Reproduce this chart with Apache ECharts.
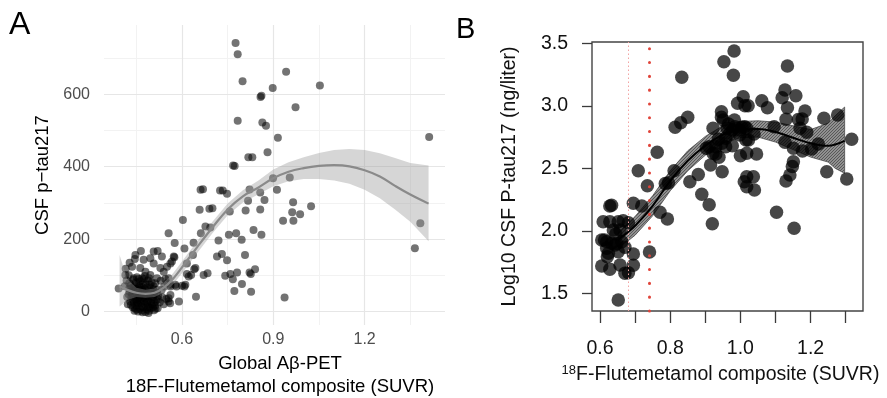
<!DOCTYPE html>
<html>
<head>
<meta charset="utf-8">
<script src="https://cdn.jsdelivr.net/npm/echarts@6/dist/echarts.min.js"></script>
<style>
  html, body { margin: 0; padding: 0; background: #fff; }
  #chart { width: 887px; height: 398px; }
</style>
</head>
<body>
<div id="chart"></div>
<script>
// ---- panel A: CSF p-tau217 vs global Abeta-PET ----
const scatterA = [
  [0.776,741],[0.783,710],[0.799,636],[0.942,662],[1.053,624],[0.898,617],[0.861,596],[0.858,592],
  [0.973,564],[0.783,527],[0.864,522],[0.876,513],[0.915,480],[1.412,482],[0.818,426],[0.831,426],
  [0.881,440],[0.768,403],[0.773,402],[0.899,368],[0.954,370],[0.822,337],[0.912,336],[0.857,329],
  [0.817,306],[0.871,308],[0.965,302],[0.809,279],[0.857,282],[1.024,291],[0.962,274],[0.988,269],
  [0.932,251],[0.966,251],[0.835,225],[0.861,212],[0.778,216],[0.754,212],[0.796,198],[0.720,196],
  [0.807,156],[0.731,159],[0.715,152],[0.748,142],[0.840,117],[0.822,108],[0.826,104],[0.781,108],
  [0.759,104],[0.742,99],[0.767,89],[0.797,76],[0.772,57],[0.827,55],[0.937,39],[1.365,175],[1.383,244],
  [0.661,336],[0.669,338],[0.725,334],[0.734,334],[0.748,325],[0.658,281],[0.690,284],[0.700,285],
  [0.757,276],[0.677,235],[0.662,216],[0.693,232],[0.603,253],[0.556,216],[0.576,189],[0.608,174],
  [0.638,190],[0.636,156],[0.573,152],[0.567,138],[0.616,133],[0.640,117],[0.630,101],[0.616,104],
  [0.671,101],[0.684,106],[0.646,41],[0.608,69],[0.582,69],[0.590,28],[0.556,37],[0.561,23],[0.542,69],
  [0.562,74],[0.578,74],[0.600,71],[0.611,74],[0.622,97],[0.644,120],[0.575,150],[0.562,133],
  [0.465,167],[0.447,156],[0.507,166],[0.520,167],[0.496,147],[0.534,152],[0.474,143],[0.436,124],
  [0.507,133],[0.551,124],[0.463,120],[0.529,120],[0.480,110],[0.414,101],[0.540,110],[0.496,101],
  [0.518,92],[0.441,92],[0.469,92],[0.427,78],[0.392,64],[0.556,92],[0.562,69],[0.562,46],[0.556,28],
  [0.440,88],[0.452,95],[0.463,84],[0.475,90],[0.488,86],[0.500,80],[0.512,78],
  [0.432,72],[0.445,70],[0.458,74],[0.470,68],[0.481,75],[0.494,66],[0.506,62],[0.518,60],
  [0.428,55],[0.438,58],[0.449,52],[0.461,60],[0.472,55],[0.484,50],[0.497,56],[0.509,48],[0.522,44],
  [0.434,40],[0.446,44],[0.457,38],[0.468,46],[0.479,36],[0.491,40],[0.503,34],[0.515,30],[0.527,26],
  [0.430,28],[0.442,24],[0.453,30],[0.465,22],[0.476,27],[0.487,18],[0.499,24],[0.511,16],
  [0.438,12],[0.450,16],[0.461,8],[0.473,12],[0.485,6],[0.496,10],[0.508,4],[0.520,9],
  [0.444,2],[0.456,0],[0.468,3],[0.480,-1],[0.492,2],[0.455,64],[0.466,35],[0.478,62],[0.489,30],
  [0.447,34],[0.459,48],[0.425,100],[0.418,86],[0.412,70],[0.420,40],[0.422,20],[0.533,60],
  [0.535,40],[0.540,20],[0.548,35],[0.530,85],[0.545,90],[0.552,78],[0.415,118],[0.428,135],[0.445,145],
  [0.436,50],[0.448,62],[0.460,44],[0.471,58],[0.483,42],[0.495,50],[0.506,40],[0.517,52],
  [0.432,18],[0.444,10],[0.455,22],[0.467,14],[0.478,20],[0.490,12],[0.502,20],[0.513,8],
  [0.440,32],[0.452,26],[0.463,30],[0.474,40],[0.486,26],[0.498,44],[0.510,26],[0.521,34],
  [0.437,66],[0.449,80],[0.460,70],[0.472,78],[0.483,66],[0.495,74],[0.507,70],[0.450,6],
  [0.470,-2],[0.490,-4],[0.505,12],[0.425,48],[0.427,64],[0.458,90],[0.478,98],[0.492,92]
];
const fitAX = [0.395,0.42,0.45,0.48,0.51,0.54,0.57,0.60,0.65,0.70,0.75,0.80,0.85,0.90,0.95,1.00,1.05,1.10,1.15,1.20,1.25,1.30,1.35,1.41];
const fitAY = [70,60,52,49,52,66,90,122,178,232,282,318,342,368,386,396,402,404,401,390,373,347,323,298];
const bandALo = [14,32,40,38,40,52,75,106,162,216,266,301,323,346,360,366,366,362,353,336,313,282,248,194];
const bandAHi = [156,90,66,60,64,80,105,138,194,248,298,335,361,392,412,426,438,446,449,446,437,424,410,403];
const aXTicks = [0.6, 0.9, 1.2];
const aXMinor = [0.45, 0.75, 1.05, 1.35];
const aYTicks = [0, 200, 400, 600];
const aYMinor = [100, 300, 500, 700];

// ---- panel B: log10 CSF P-tau217 vs 18F-flutemetamol ----
const scatterB = [
  [0.628,2.198],[0.633,2.205],[0.609,2.073],[0.628,2.073],[0.652,2.073],[0.666,2.080],[0.681,2.065],
  [0.638,2.006],[0.657,2.006],[0.605,1.926],[0.619,1.913],[0.633,1.900],[0.648,1.898],[0.662,1.913],
  [0.652,1.833],[0.624,1.820],[0.605,1.718],[0.628,1.692],[0.657,1.726],[0.671,1.660],[0.681,1.665],
  [0.695,1.814],[0.695,1.724],[0.652,1.446],[0.645,1.975],[0.613,1.927],[0.621,1.793],[0.619,1.860],
  [0.643,1.887],[0.671,1.868],
  [0.695,2.220],[0.719,2.198],[0.709,2.481],[0.741,1.830],[0.735,2.361],[0.763,2.628],[0.771,2.148],
  [0.792,2.094],[0.786,2.378],[0.795,2.385],[0.811,2.481],[0.833,3.228],[0.814,2.828],[0.830,2.865],
  [0.850,2.908],[0.856,2.393],[0.880,2.450],[0.890,2.292],[0.911,2.209],[0.920,2.057],
  [0.903,2.660],[0.911,2.673],[0.922,2.620],[0.930,2.673],[0.947,2.700],[0.958,2.673],[0.958,2.740],
  [0.970,2.780],[0.962,2.820],[0.977,2.681],[0.977,2.807],[0.984,2.833],[0.998,2.807],[0.998,2.767],
  [1.012,2.833],[1.016,2.727],[0.946,2.908],[0.951,2.886],[0.966,2.854],[0.983,2.886],[1.004,2.828],
  [1.018,2.820],[1.039,2.774],[0.939,2.588],[0.922,2.820],[0.937,2.732],[0.946,2.953],[0.915,2.527],
  [0.948,2.473],[0.930,2.615],[1.023,2.726],
  [0.982,3.438],[0.953,3.353],[0.980,3.244],[1.134,3.318],[1.127,3.126],[1.158,3.081],[1.119,3.065],
  [1.134,2.985],[1.061,3.041],[1.077,2.985],[1.008,3.073],[0.992,3.020],[1.013,3.000],[1.022,3.000],
  [1.184,2.958],[1.176,2.894],[1.165,2.890],[1.130,2.892],[1.238,2.900],[1.277,2.926],[1.096,2.833],
  [1.170,2.820],[1.189,2.788],[1.317,2.732],[1.222,2.694],[1.203,2.654],[1.177,2.638],[1.151,2.660],
  [1.127,2.708],[1.151,2.553],[1.148,2.515],[1.141,2.446],[1.130,2.398],[1.246,2.473],[1.303,2.414],
  [1.103,2.148],[1.153,2.020],
  [1.018,2.620],[1.046,2.614],[1.000,2.600],[1.018,2.433],[1.037,2.433],[1.011,2.393],[1.018,2.353],[1.040,2.326]
];
const fitBX = [0.652,0.68,0.70,0.75,0.80,0.85,0.90,0.95,1.00,1.05,1.10,1.15,1.20,1.25,1.27,1.297];
const fitBY = [1.927,1.99,2.04,2.20,2.40,2.56,2.68,2.77,2.81,2.815,2.79,2.745,2.70,2.68,2.69,2.72];
const bandBLo = [1.867,1.92,1.965,2.12,2.32,2.48,2.605,2.70,2.745,2.75,2.71,2.65,2.59,2.55,2.50,2.46];
const bandBHi = [1.987,2.06,2.115,2.28,2.48,2.64,2.755,2.84,2.875,2.88,2.87,2.84,2.81,2.86,2.92,2.99];
const bXTicks = [0.6, 0.7, 0.8, 0.9, 1.0, 1.1, 1.2, 1.3];
const bXLabels = [0.6, 0.8, 1.0, 1.2];
const bYTicks = [1.5, 2.0, 2.5, 3.0, 3.5];
const cutLow = 0.681;
const cutHigh = 0.740;
const cutHighTop = 3.46;

const FONT = '"Liberation Sans", Arial, Helvetica, sans-serif';

// hatch pattern for the panel B confidence band
const hatch = document.createElement('canvas');
hatch.width = 3; hatch.height = 3;
(function () {
  const c = hatch.getContext('2d');
  c.fillStyle = 'rgba(125,125,125,0.85)';
  c.fillRect(0, 0, 3, 3);
  c.strokeStyle = 'rgba(75,75,75,0.9)';
  c.lineWidth = 0.9;
  c.beginPath();
  c.moveTo(0, 3); c.lineTo(3, 0);
  c.moveTo(-1, 1); c.lineTo(1, -1);
  c.moveTo(2, 4); c.lineTo(4, 2);
  c.stroke();
})();

function bandRenderer(xs, lo, hi, style) {
  return function (params, api) {
    if (params.dataIndex !== 0) return;
    const pts = [];
    for (let i = 0; i < xs.length; i++) pts.push(api.coord([xs[i], hi[i]]));
    for (let i = xs.length - 1; i >= 0; i--) pts.push(api.coord([xs[i], lo[i]]));
    return { type: 'polygon', shape: { points: pts }, style: style };
  };
}

const zip = (xs, ys) => xs.map((x, i) => [x, ys[i]]);

const chart = echarts.init(document.getElementById('chart'));
chart.setOption({
  animation: false,
  backgroundColor: '#fff',
  textStyle: { fontFamily: FONT },
  grid: [
    { left: 104, top: 25, width: 341, height: 300, show: false, containLabel: false, outerBoundsMode: 'none' },
    { left: 592, top: 42, width: 271, height: 269, show: true, borderColor: '#444', borderWidth: 1.4,
      backgroundColor: 'transparent', containLabel: false, outerBoundsMode: 'none' }
  ],
  xAxis: [
    {
      gridIndex: 0, type: 'value', min: 0.3438, max: 1.464,
      axisLine: { show: false }, axisTick: { show: false }, splitLine: { show: false },
      axisLabel: { customValues: aXTicks, color: '#4d4d4d', fontSize: 16, margin: 7, fontFamily: FONT,
        formatter: v => v.toFixed(1) },
      name: 'Global A\u03b2-PET\n18F-Flutemetamol composite (SUVR)',
      nameLocation: 'middle', nameGap: 26,
      nameTextStyle: { color: '#000', fontSize: 18.5, lineHeight: 23, fontFamily: FONT, padding: [0, 0, 0, 11] }
    },
    {
      gridIndex: 1, type: 'value', min: 0.5772, max: 1.3493,
      axisLine: { show: false },
      axisTick: { show: true, customValues: bXTicks, length: 12, lineStyle: { color: '#3a3a3a', width: 1.3 } },
      splitLine: { show: false },
      axisLabel: { customValues: bXLabels, color: '#111', fontSize: 19.5, margin: 28, fontFamily: FONT,
        formatter: v => v.toFixed(1) },
      name: '{s|18}{n|F-Flutemetamol composite (SUVR)}',
      nameLocation: 'middle', nameGap: 43,
      nameTextStyle: {
        padding: [0, 14, 0, 0],
        rich: {
          s: { fontSize: 13, color: '#111', fontFamily: FONT, padding: [0, 0, 9, 0] },
          n: { fontSize: 19.5, color: '#111', fontFamily: FONT }
        }
      }
    }
  ],
  yAxis: [
    {
      gridIndex: 0, type: 'value', min: -37, max: 791,
      axisLine: { show: false }, axisTick: { show: false }, splitLine: { show: false },
      axisLabel: { customValues: aYTicks, color: '#4d4d4d', fontSize: 16, margin: 14, fontFamily: FONT },
      name: 'CSF p\u2212tau217', nameLocation: 'middle', nameGap: 52,
      nameTextStyle: { color: '#000', fontSize: 18.5, fontFamily: FONT }
    },
    {
      gridIndex: 1, type: 'value', min: 1.3584, max: 3.5104,
      axisLine: { show: false },
      axisTick: { show: true, customValues: bYTicks, length: 10, lineStyle: { color: '#3a3a3a', width: 1.3 } },
      splitLine: { show: false },
      axisLabel: { customValues: bYTicks, color: '#111', fontSize: 19.5, margin: 24, fontFamily: FONT,
        formatter: v => v.toFixed(1) },
      name: 'Log10 CSF P-tau217 (ng/liter)', nameLocation: 'middle', nameGap: 72,
      nameTextStyle: { color: '#111', fontSize: 19.5, fontFamily: FONT }
    }
  ],
  graphic: [
    { type: 'text', left: 9, top: 9, style: { text: 'A', fontSize: 32, fontFamily: FONT, fill: '#000' } },
    { type: 'text', left: 456, top: 15, style: { text: 'B', fontSize: 29, fontFamily: FONT, fill: '#000' } }
  ],
  series: [
    // panel A
    {
      type: 'scatter', xAxisIndex: 0, yAxisIndex: 0, z: 2,
      data: scatterA, symbolSize: 8,
      itemStyle: { color: '#000', opacity: 0.55 },
      silent: true,
      markLine: {
        silent: true, symbol: ['none', 'none'], label: { show: false }, z: 0,
        emphasis: { disabled: true },
        data: [
          ...aXMinor.map(v => ({ xAxis: v, lineStyle: { color: '#f2f2f2', width: 1, type: 'solid' } })),
          ...aYMinor.map(v => ({ yAxis: v, lineStyle: { color: '#f2f2f2', width: 1, type: 'solid' } })),
          ...aXTicks.map(v => ({ xAxis: v, lineStyle: { color: '#e6e6e6', width: 1.2, type: 'solid' } })),
          ...aYTicks.map(v => ({ yAxis: v, lineStyle: { color: '#e6e6e6', width: 1.2, type: 'solid' } }))
        ]
      }
    },
    {
      type: 'custom', xAxisIndex: 0, yAxisIndex: 0, z: 3, silent: true,
      data: fitAX.map((x, i) => [x, bandALo[i], bandAHi[i]]),
      encode: { x: 0, y: [1, 2] },
      renderItem: bandRenderer(fitAX, bandALo, bandAHi, { fill: 'rgba(153,153,153,0.4)' })
    },
    {
      type: 'line', xAxisIndex: 0, yAxisIndex: 0, z: 4, silent: true,
      data: zip(fitAX, fitAY), showSymbol: false, smooth: 0.4,
      lineStyle: { color: '#8a8a8a', width: 2.2 }
    },
    // panel B
    {
      type: 'custom', xAxisIndex: 1, yAxisIndex: 1, z: 2, silent: true,
      data: fitBX.map((x, i) => [x, bandBLo[i], bandBHi[i]]),
      encode: { x: 0, y: [1, 2] },
      renderItem: bandRenderer(fitBX, bandBLo, bandBHi, {
        fill: { image: hatch, repeat: 'repeat' }, stroke: '#4a4a4a', lineWidth: 0.8
      })
    },
    {
      type: 'scatter', xAxisIndex: 1, yAxisIndex: 1, z: 3, silent: true,
      data: scatterB, symbolSize: 13.5,
      itemStyle: { color: '#000', opacity: 0.72 },
      markLine: {
        silent: true, symbol: ['none', 'none'], label: { show: false }, z: 10,
        emphasis: { disabled: true },
        data: [
          { xAxis: cutLow, lineStyle: { color: '#f3a3a3', width: 1, type: [1.5, 2.5] } },
          [
            { coord: [cutHigh, 1.3584], lineStyle: { color: '#e0443a', width: 3, type: [0.1, 13.7], cap: 'round' } },
            { coord: [cutHigh, cutHighTop] }
          ]
        ]
      }
    },
    {
      type: 'line', xAxisIndex: 1, yAxisIndex: 1, z: 4, silent: true,
      data: zip(fitBX, fitBY), showSymbol: false, smooth: 0.4,
      lineStyle: { color: '#000', width: 2 }
    }
  ]
});
</script>
</body>
</html>
